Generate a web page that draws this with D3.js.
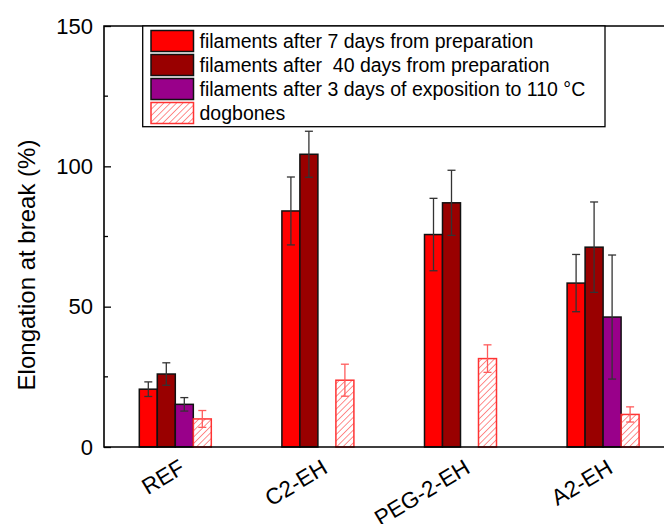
<!DOCTYPE html>
<html>
<head>
<meta charset="utf-8">
<script src="https://cdn.jsdelivr.net/npm/d3@7"></script>
<style>
  body { margin: 0; background: #fff; }
  svg { display: block; font-family: Arial, "Liberation Sans", sans-serif; }
</style>
</head>
<body>
<svg id="chart" width="664" height="524"></svg>
<script>
// Chart data
const categories = ['REF', 'C2-EH', 'PEG-2-EH', 'A2-EH'];
const seriesNames = [
  'filaments after 7 days from preparation',
  'filaments after  40 days from preparation',
  'filaments after 3 days of exposition to 110 °C',
  'dogbones'
];
const days7 = [20.6, 84.1, 75.7, 58.4];
const days7Err = [2.6, 12.1, 12.9, 10.2];
const days40 = [26.0, 104.3, 87.0, 71.2];
const days40Err = [4.0, 8.2, 11.6, 16.1];
const heat110 = [15.2, null, null, 46.3];
const heat110Err = [2.4, null, null, 22.1];
const dogbones = [10.0, 23.8, 31.5, 11.6];
const dogbonesErr = [3.0, 5.7, 4.9, 2.7];
const yTicks = [0, 50, 100, 150];
const yMinorTicks = [25, 75, 125];

const seriesValues = [days7, days40, heat110, dogbones];
const seriesErrors = [days7Err, days40Err, heat110Err, dogbonesErr];

const margin = { top: 26, left: 104, bottom: 77 };
const width = 664, height = 524;
const plotRight = 674.4; // frame continues past the picture edge

const svg = d3.select('#chart');

const defs = svg.append('defs');
defs.append('pattern')
    .attr('id', 'hatch')
    .attr('patternUnits', 'userSpaceOnUse')
    .attr('width', 4.5)
    .attr('height', 4.5)
    .attr('patternTransform', 'rotate(45)')
  .append('line')
    .attr('x1', 0).attr('y1', 0)
    .attr('x2', 0).attr('y2', 4.5)
    .attr('stroke', '#ff3030')
    .attr('stroke-width', 1.1);

const styles = [
  { fill: '#ff0000', stroke: '#111', err: '#333' },
  { fill: '#990000', stroke: '#111', err: '#333' },
  { fill: '#99008a', stroke: '#111', err: '#333' },
  { fill: 'url(#hatch)', stroke: '#ff3333', err: '#ff5c5c' }
];

// Scales
const xScale = d3.scaleBand()
    .domain(categories)
    .range([margin.left, plotRight])
    .padding(0);

const groupWidth = 72;
const xSub = d3.scaleBand()
    .domain(d3.range(seriesNames.length))
    .range([0, groupWidth])
    .padding(0);

const yScale = d3.scaleLinear()
    .domain([0, 150])
    .range([height - margin.bottom, margin.top]);

// Flatten data for binding
const barData = [];
categories.forEach((c, ci) => {
  seriesValues.forEach((vals, si) => {
    if (vals[ci] != null) {
      barData.push({ cat: c, s: si, value: vals[ci], err: seriesErrors[si][ci] });
    }
  });
});

const barX = d => xScale(d.cat) + xScale.bandwidth() / 2 - groupWidth / 2 + xSub(d.s);

// Bars
svg.append('g').selectAll('rect')
    .data(barData)
  .join('rect')
    .attr('x', d => barX(d))
    .attr('y', d => yScale(d.value))
    .attr('width', xSub.bandwidth())
    .attr('height', d => yScale(0) - yScale(d.value))
    .attr('fill', d => styles[d.s].fill)
    .attr('stroke', d => styles[d.s].stroke)
    .attr('stroke-width', 1.5);

// Error bars
const errG = svg.append('g').selectAll('g')
    .data(barData)
  .join('g')
    .attr('stroke', d => styles[d.s].err)
    .attr('stroke-width', 1.3);

errG.append('line')
    .attr('x1', d => barX(d) + xSub.bandwidth() / 2)
    .attr('x2', d => barX(d) + xSub.bandwidth() / 2)
    .attr('y1', d => yScale(d.value - d.err))
    .attr('y2', d => yScale(d.value + d.err));

[1, -1].forEach(sign => {
  errG.append('line')
      .attr('x1', d => barX(d) + xSub.bandwidth() / 2 - 4)
      .attr('x2', d => barX(d) + xSub.bandwidth() / 2 + 4)
      .attr('y1', d => yScale(d.value + sign * d.err))
      .attr('y2', d => yScale(d.value + sign * d.err));
});

// Y axis (ticks inside)
const yAxis = d3.axisLeft(yScale)
    .tickValues(yTicks)
    .tickSize(-7)
    .tickPadding(11)
    .tickSizeOuter(0);

const yAxisG = svg.append('g')
    .attr('transform', `translate(${margin.left},0)`)
    .call(yAxis);
yAxisG.select('.domain').remove();
yAxisG.selectAll('.tick line').attr('stroke', '#000').attr('stroke-width', 1.3);
yAxisG.selectAll('.tick text')
    .attr('font-size', 22)
    .attr('font-family', 'Arial, "Liberation Sans", sans-serif')
    .attr('fill', '#000');

svg.append('g')
    .attr('transform', `translate(${margin.left},0)`)
    .selectAll('line')
    .data(yMinorTicks)
  .join('line')
    .attr('x1', 0).attr('x2', 4)
    .attr('y1', d => yScale(d)).attr('y2', d => yScale(d))
    .attr('stroke', '#000').attr('stroke-width', 1.3);

// Frame lines
svg.append('path')
    .attr('d', `M${plotRight},${yScale(150)}H${margin.left}V${yScale(0)}H${plotRight}`)
    .attr('fill', 'none')
    .attr('stroke', '#000')
    .attr('stroke-width', 1.6);

// X labels
svg.append('g').selectAll('text')
    .data(categories)
  .join('text')
    .attr('transform', d => `translate(${xScale(d) + xScale.bandwidth() / 2 + 11},472) rotate(-31)`)
    .attr('text-anchor', 'end')
    .attr('font-size', 22.5)
    .attr('fill', '#000')
    .text(d => d);

// Y title
svg.append('text')
    .attr('transform', `translate(35,265) rotate(-90)`)
    .attr('text-anchor', 'middle')
    .attr('font-size', 24)
    .attr('fill', '#000')
    .text('Elongation at break (%)');

// Legend
const legend = svg.append('g');
legend.append('rect')
    .attr('x', 142.7).attr('y', 26)
    .attr('width', 462.3).attr('height', 100.7)
    .attr('fill', '#fff')
    .attr('stroke', '#000')
    .attr('stroke-width', 1.3);

const items = legend.selectAll('g.item')
    .data(seriesNames)
  .join('g')
    .attr('class', 'item')
    .attr('transform', (d, i) => `translate(151,${30.5 + i * 24})`);

items.append('rect')
    .attr('width', 42.5)
    .attr('height', 21)
    .attr('fill', (d, i) => styles[i].fill)
    .attr('stroke', (d, i) => styles[i].stroke)
    .attr('stroke-width', 1.5);

items.append('text')
    .attr('x', 48.5)
    .attr('y', 17.5)
    .attr('font-size', 19.5)
    .attr('fill', '#000')
    .style('white-space', 'pre')
    .text(d => d);
</script>
</body>
</html>
